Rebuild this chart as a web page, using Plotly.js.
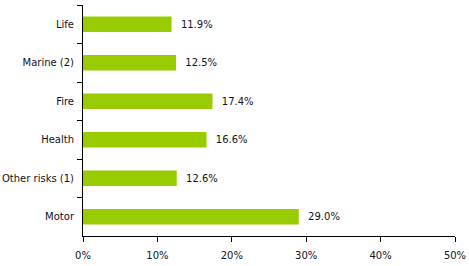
<!DOCTYPE html>
<html>
<head>
<meta charset="utf-8">
<script src="https://cdn.plot.ly/plotly-3.0.1.min.js"></script>
<style>html,body{margin:0;padding:0;background:#fff;}#chart{width:469px;height:266px;}</style>
</head>
<body>
<div id="chart"></div>
<script>
const categories = ["Life", "Marine (2)", "Fire", "Health", "Other risks (1)", "Motor"];
const shares = [11.9, 12.5, 17.4, 16.6, 12.6, 29.0];
const xTickValues = [0, 10, 20, 30, 40, 50];

const fontFamily = "DejaVu Sans, sans-serif";
const textColor = "#111122";

Plotly.newPlot("chart", [{
  type: "bar",
  orientation: "h",
  y: categories,
  x: shares,
  width: 0.4,
  marker: {color: "#99CC00"},
  text: shares.map(v => "\u00a0\u00a0" + v.toFixed(1) + "%"),
  textposition: "outside",
  textfont: {family: fontFamily, size: 10, color: textColor},
  cliponaxis: false,
  hoverinfo: "none"
}], {
  width: 469, height: 266,
  margin: {l: 83, r: 14, t: 5, b: 30},
  paper_bgcolor: "#fff", plot_bgcolor: "#fff",
  showlegend: false,
  font: {family: fontFamily, size: 10, color: textColor},
  xaxis: {
    range: [0, 50],
    tickvals: xTickValues,
    ticktext: xTickValues.map(v => v + "%"),
    ticks: "outside", ticklen: 5, tickcolor: "#000", tickwidth: 1,
    showline: true, linecolor: "#000", linewidth: 1,
    showgrid: false, zeroline: false,
    ticklabelstandoff: 5,
    fixedrange: true
  },
  yaxis: {
    type: "category",
    autorange: "reversed",
    ticks: "outside", tickson: "boundaries", ticklen: 5, tickcolor: "#000", tickwidth: 1,
    showline: true, linecolor: "#000", linewidth: 1,
    showgrid: false, zeroline: false,
    ticklabelstandoff: 6,
    fixedrange: true
  },
  bargap: 0.6
}, {displayModeBar: false, staticPlot: true});
</script>
</body>
</html>
